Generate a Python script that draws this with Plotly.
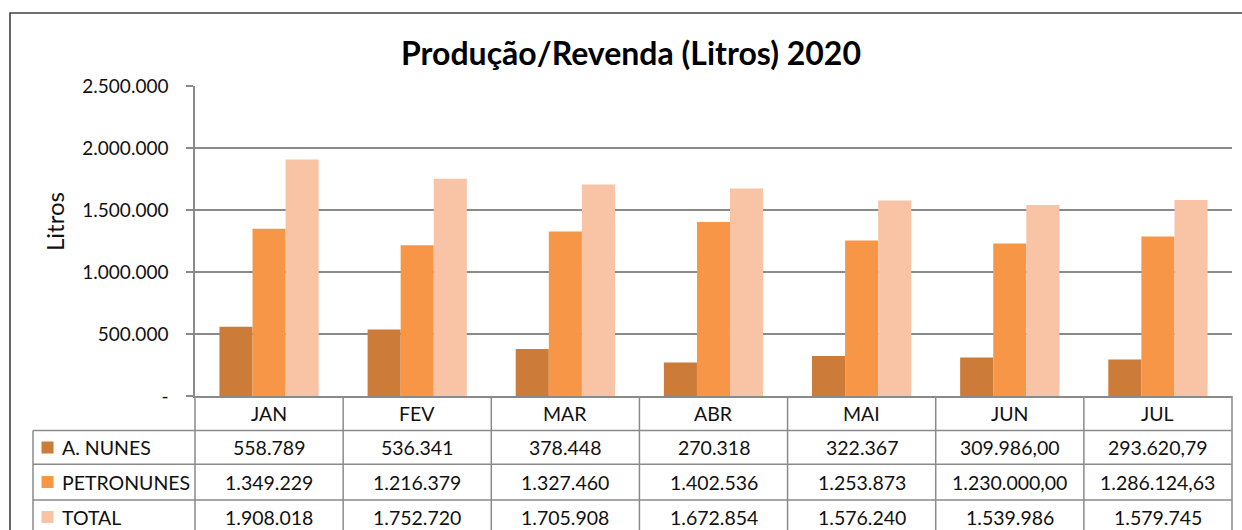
import plotly.graph_objects as go

# ---------------- data ----------------
months = ["JAN", "FEV", "MAR", "ABR", "MAI", "JUN", "JUL"]
series_names = ["A. NUNES", "PETRONUNES", "TOTAL"]
a_nunes = [558789, 536341, 378448, 270318, 322367, 309986.00, 293620.79]
petronunes = [1349229, 1216379, 1327460, 1402536, 1253873, 1230000.00, 1286124.63]
total = [1908018, 1752720, 1705908, 1672854, 1576240, 1539986, 1579745]
decimals_a = [0, 0, 0, 0, 0, 2, 2]
decimals_p = [0, 0, 0, 0, 0, 2, 2]
decimals_t = [0, 0, 0, 0, 0, 0, 0]
ytick_vals = [0, 500000, 1000000, 1500000, 2000000, 2500000]
ytick_text = ["-", "500.000", "1.000.000", "1.500.000", "2.000.000", "2.500.000"]
title_text = "Produção/Revenda (Litros) 2020"
ytitle_text = "Litros"

colors = ["#CC7B38", "#F79646", "#F9C3A6"]

# ---------------- layout helpers ----------------
W, H = 1242, 530
FONT = "Lato"
GRID = "#8A8A8A"
TXT = "#111111"


def px(x):
    return x / W


def py(y):
    return 1 - y / H


def fmt(v, dec):
    s = f"{v:,.{dec}f}"
    return s.replace(",", "X").replace(".", ",").replace("X", ".")


x_dom = [px(195), px(1232)]
y_dom = [py(396), py(86)]

fig = go.Figure()
all_vals = [a_nunes, petronunes, total]
for name, vals, col in zip(series_names, all_vals, colors):
    fig.add_trace(go.Bar(
        x=list(range(len(months))), y=vals, name=name,
        marker=dict(color=col, line=dict(width=0)),
        hoverinfo="x+y",
    ))

shapes = []
annotations = []

# outer chart border
shapes.append(dict(type="rect", xref="paper", yref="paper",
                   x0=px(10), x1=1.02, y0=-0.02, y1=py(13),
                   line=dict(color="#404040", width=1.6), layer="above"))

# table geometry
n = len(months)
col_w = (x_dom[1] - x_dom[0]) / n
row_lines = [py(430.5), py(464.3), py(500)]
row_centers = [py(447.5), py(482), py(517)]
header_center = py(413)
left_x = px(33)

# vertical lines of table (category boundaries)
for k in range(n + 1):
    xk = x_dom[0] + k * col_w
    shapes.append(dict(type="line", xref="paper", yref="paper",
                       x0=xk, x1=xk, y0=y_dom[0], y1=-0.02,
                       line=dict(color=GRID, width=1.5)))
# left border of legend column
shapes.append(dict(type="line", xref="paper", yref="paper",
                   x0=left_x, x1=left_x, y0=row_lines[0], y1=-0.02,
                   line=dict(color=GRID, width=1.5)))
# horizontal row lines
for yl in row_lines:
    shapes.append(dict(type="line", xref="paper", yref="paper",
                       x0=left_x, x1=x_dom[1], y0=yl, y1=yl,
                       line=dict(color=GRID, width=1.5)))

# header (month names)
for i, m in enumerate(months):
    annotations.append(dict(x=i, xref="x", y=header_center, yref="paper",
                            text=m, showarrow=False, xanchor="center", yanchor="middle",
                            font=dict(family=FONT, size=19.5, color=TXT)))

# data rows
decs = [decimals_a, decimals_p, decimals_t]
for r, (name, vals, dd, col) in enumerate(zip(series_names, all_vals, decs, colors)):
    yc = row_centers[r]
    # legend key
    shapes.append(dict(type="rect", xref="paper", yref="paper",
                       xsizemode="pixel", ysizemode="pixel",
                       xanchor=px(47.5), yanchor=yc,
                       x0=-6, x1=6, y0=-6, y1=6,
                       fillcolor=col, line=dict(width=0)))
    annotations.append(dict(x=px(60), xref="paper", y=yc, yref="paper",
                            text=name, showarrow=False, xanchor="left", yanchor="middle",
                            font=dict(family=FONT, size=19.5, color=TXT)))
    for i, v in enumerate(vals):
        annotations.append(dict(x=i, xref="x", y=yc, yref="paper",
                                text=fmt(v, dd[i]), showarrow=False,
                                xanchor="center", yanchor="middle",
                                font=dict(family=FONT, size=19.5, color=TXT)))

# y-axis title
annotations.append(dict(x=px(54), xref="paper", y=py(222), yref="paper",
                        text=ytitle_text, textangle=-90, showarrow=False,
                        xanchor="center", yanchor="middle",
                        font=dict(family=FONT, size=24, color=TXT)))

fig.update_layout(
    template="none",
    width=W, height=H,
    margin=dict(l=0, r=0, t=0, b=0, pad=0, autoexpand=False),
    paper_bgcolor="white", plot_bgcolor="white",
    barmode="group", bargap=0.33, bargroupgap=0,
    showlegend=False,
    title=dict(text="<b>" + title_text + "</b>", x=px(631), xanchor="center",
               y=py(54), yanchor="middle", yref="paper", xref="paper",
               font=dict(family=FONT, size=32, color="#000000")),
    xaxis=dict(domain=x_dom, range=[-0.5, n - 0.5], showticklabels=False,
               showgrid=False, zeroline=False, showline=True, linecolor=GRID,
               linewidth=1.5, ticks="", fixedrange=True, automargin=False),
    yaxis=dict(domain=y_dom, range=[0, 2500000], tickvals=ytick_vals, ticktext=ytick_text,
               showgrid=True, gridcolor=GRID, gridwidth=1.5, zeroline=False,
               showline=True, linecolor=GRID, linewidth=1.5,
               ticks="outside", ticklen=7, tickcolor=GRID, tickwidth=1.5,
               ticklabelstandoff=14, automargin=False,
               tickfont=dict(family=FONT, size=19, color=TXT), fixedrange=True),
    shapes=shapes,
    annotations=annotations,
)

fig.write_html("out.html")
